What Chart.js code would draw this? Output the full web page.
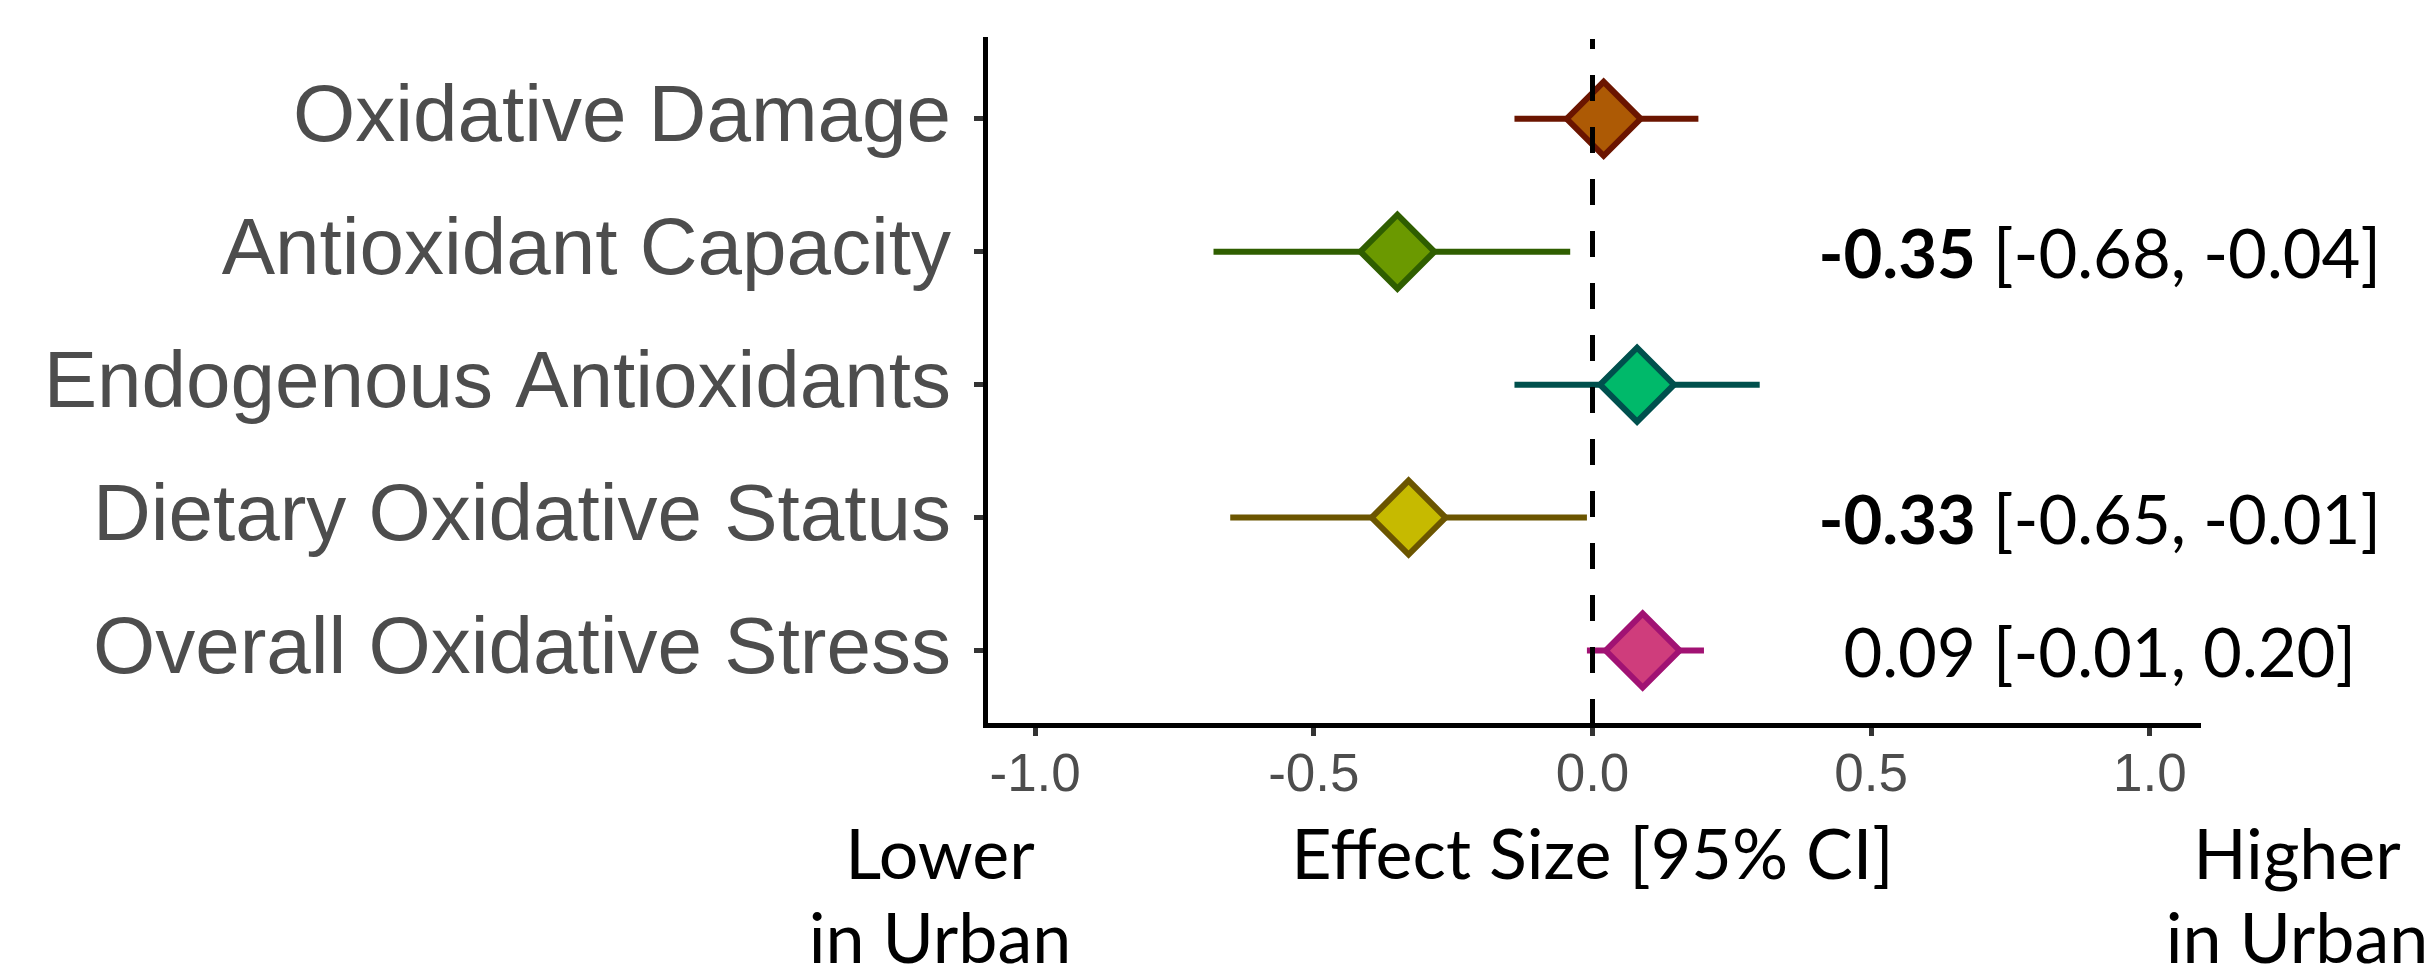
<!DOCTYPE html>
<html>
<head>
<meta charset="utf-8">
<script src="https://cdn.jsdelivr.net/npm/chart.js@4.4.1/dist/chart.umd.min.js"></script>
<style>
  html, body { margin: 0; padding: 0; background: #fff; }
  #wrap { width: 2436px; height: 967px; position: relative; }
</style>
</head>
<body>
<div id="wrap"><canvas id="forest"></canvas></div>
<script>
const categories = [
  "Oxidative Damage",
  "Antioxidant Capacity",
  "Endogenous Antioxidants",
  "Dietary Oxidative Status",
  "Overall Oxidative Stress",
];
const rowPositions = [5, 4, 3, 2, 1];
const estimates = [0.02, -0.35, 0.08, -0.33, 0.09];
const lowerCI = [-0.14, -0.68, -0.14, -0.65, -0.01];
const upperCI = [0.19, -0.04, 0.30, -0.01, 0.20];
const labelled = [false, true, false, true, true];
const boldEstimate = [false, true, false, true, false];
const xTicks = [-1, -0.5, 0, 0.5, 1];
const referenceLine = 0;

const fillColors = ["#ad5a05", "#6b9900", "#00b96a", "#c6ba00", "#cf3d7c"];
const edgeColors = ["#6b1500", "#2f5e00", "#00504d", "#6b5500", "#a11273"];

const X_MIN = -1.09, X_MAX = 1.09;
const Y_MIN = 0.44, Y_MAX = 5.6;
const CALIBRI_LIKE = "Lato";

const ciDatasets = categories.map((name, i) => ({
  type: "line",
  label: name,
  data: [
    { x: lowerCI[i], y: rowPositions[i] },
    { x: upperCI[i], y: rowPositions[i] },
  ],
  borderColor: edgeColors[i],
  borderWidth: 6,
  pointRadius: 0,
  order: 2,
}));

const pointDataset = {
  type: "scatter",
  label: "estimate",
  data: estimates.map((v, i) => ({ x: v, y: rowPositions[i] })),
  pointStyle: "rectRot",
  pointRadius: 37,
  pointHoverRadius: 37,
  backgroundColor: fillColors,
  borderColor: edgeColors,
  borderWidth: 6,
  order: 1,
};

const zeroDataset = {
  type: "line",
  label: "zero",
  data: [
    { x: referenceLine, y: Y_MIN },
    { x: referenceLine, y: Y_MAX },
  ],
  borderColor: "#000",
  borderWidth: 5,
  borderDash: [26, 26],
  pointRadius: 0,
  order: 0,
};

function drawCentered(ctx, parts, cx, y) {
  let total = 0;
  parts.forEach((p) => {
    ctx.font = p.font;
    p.w = ctx.measureText(p.text).width;
    total += p.w;
  });
  let left = cx - total / 2;
  ctx.textAlign = "left";
  parts.forEach((p) => {
    ctx.font = p.font;
    ctx.fillText(p.text, left, y);
    left += p.w;
  });
}

const textPlugin = {
  id: "forest-text",
  afterDraw(chart) {
    const { ctx } = chart;
    const xs = chart.scales.x;
    const ys = chart.scales.y;
    ctx.save();
    ctx.fillStyle = "#000";
    ctx.textBaseline = "middle";
    categories.forEach((name, i) => {
      if (!labelled[i]) return;
      const est = estimates[i].toFixed(2);
      const ci = ` [${lowerCI[i].toFixed(2)}, ${upperCI[i].toFixed(2)}]`;
      drawCentered(
        ctx,
        [
          { text: est, font: `${boldEstimate[i] ? 700 : 400} 67px ${CALIBRI_LIKE}` },
          { text: ci, font: `400 67px ${CALIBRI_LIKE}` },
        ],
        xs.getPixelForValue(0.91),
        ys.getPixelForValue(rowPositions[i]) + 5
      );
    });

    ctx.textBaseline = "alphabetic";
    ctx.textAlign = "center";
    ctx.font = `400 70px ${CALIBRI_LIKE}`;
    ctx.fillText("Effect Size [95% CI]", xs.getPixelForValue(0), 879);
    ctx.fillText("Lower", 940, 879);
    ctx.fillText("in Urban", 940, 963);
    ctx.fillText("Higher", 2297, 879);
    ctx.fillText("in Urban", 2297, 963);
    ctx.restore();
  },
};

new Chart(document.getElementById("forest"), {
  data: { datasets: [zeroDataset, pointDataset, ...ciDatasets] },
  options: {
    responsive: true,
    maintainAspectRatio: false,
    devicePixelRatio: 1,
    animation: false,
    layout: { autoPadding: false, padding: { top: 39, right: 236, left: 0, bottom: 0 } },
    plugins: {
      legend: { display: false },
      tooltip: { enabled: false },
    },
    scales: {
      x: {
        type: "linear",
        min: X_MIN,
        max: X_MAX,
        afterBuildTicks: (axis) => { axis.ticks = xTicks.map((v) => ({ value: v })); },
        afterFit: (axis) => {
          axis.height = 242;
          axis.paddingLeft = 0;
          axis.paddingRight = 0;
        },
        ticks: {
          color: "#4d4d4d",
          font: { family: "Liberation Sans, Arial", size: 53 },
          padding: 9,
          maxRotation: 0,
          autoSkip: false,
          callback: (v) => Number(v).toFixed(1),
        },
        grid: {
          drawOnChartArea: false,
          drawTicks: true,
          tickLength: 11,
          tickWidth: 5,
          tickColor: "#333333",
        },
        border: { display: true, color: "#000", width: 5 },
      },
      y: {
        type: "linear",
        min: Y_MIN,
        max: Y_MAX,
        afterBuildTicks: (axis) => { axis.ticks = rowPositions.map((v) => ({ value: v })); },
        afterFit: (axis) => {
          axis.width = 985;
          axis.paddingTop = 0;
          axis.paddingBottom = 0;
        },
        ticks: {
          color: "#4d4d4d",
          font: { family: "Liberation Sans, Arial", size: 80 },
          padding: 23,
          autoSkip: false,
          callback: (v) => categories[rowPositions.indexOf(v)],
        },
        grid: {
          drawOnChartArea: false,
          drawTicks: true,
          tickLength: 11,
          tickWidth: 5,
          tickColor: "#333333",
        },
        border: { display: true, color: "#000", width: 5 },
      },
    },
  },
  plugins: [textPlugin],
});
</script>
</body>
</html>
